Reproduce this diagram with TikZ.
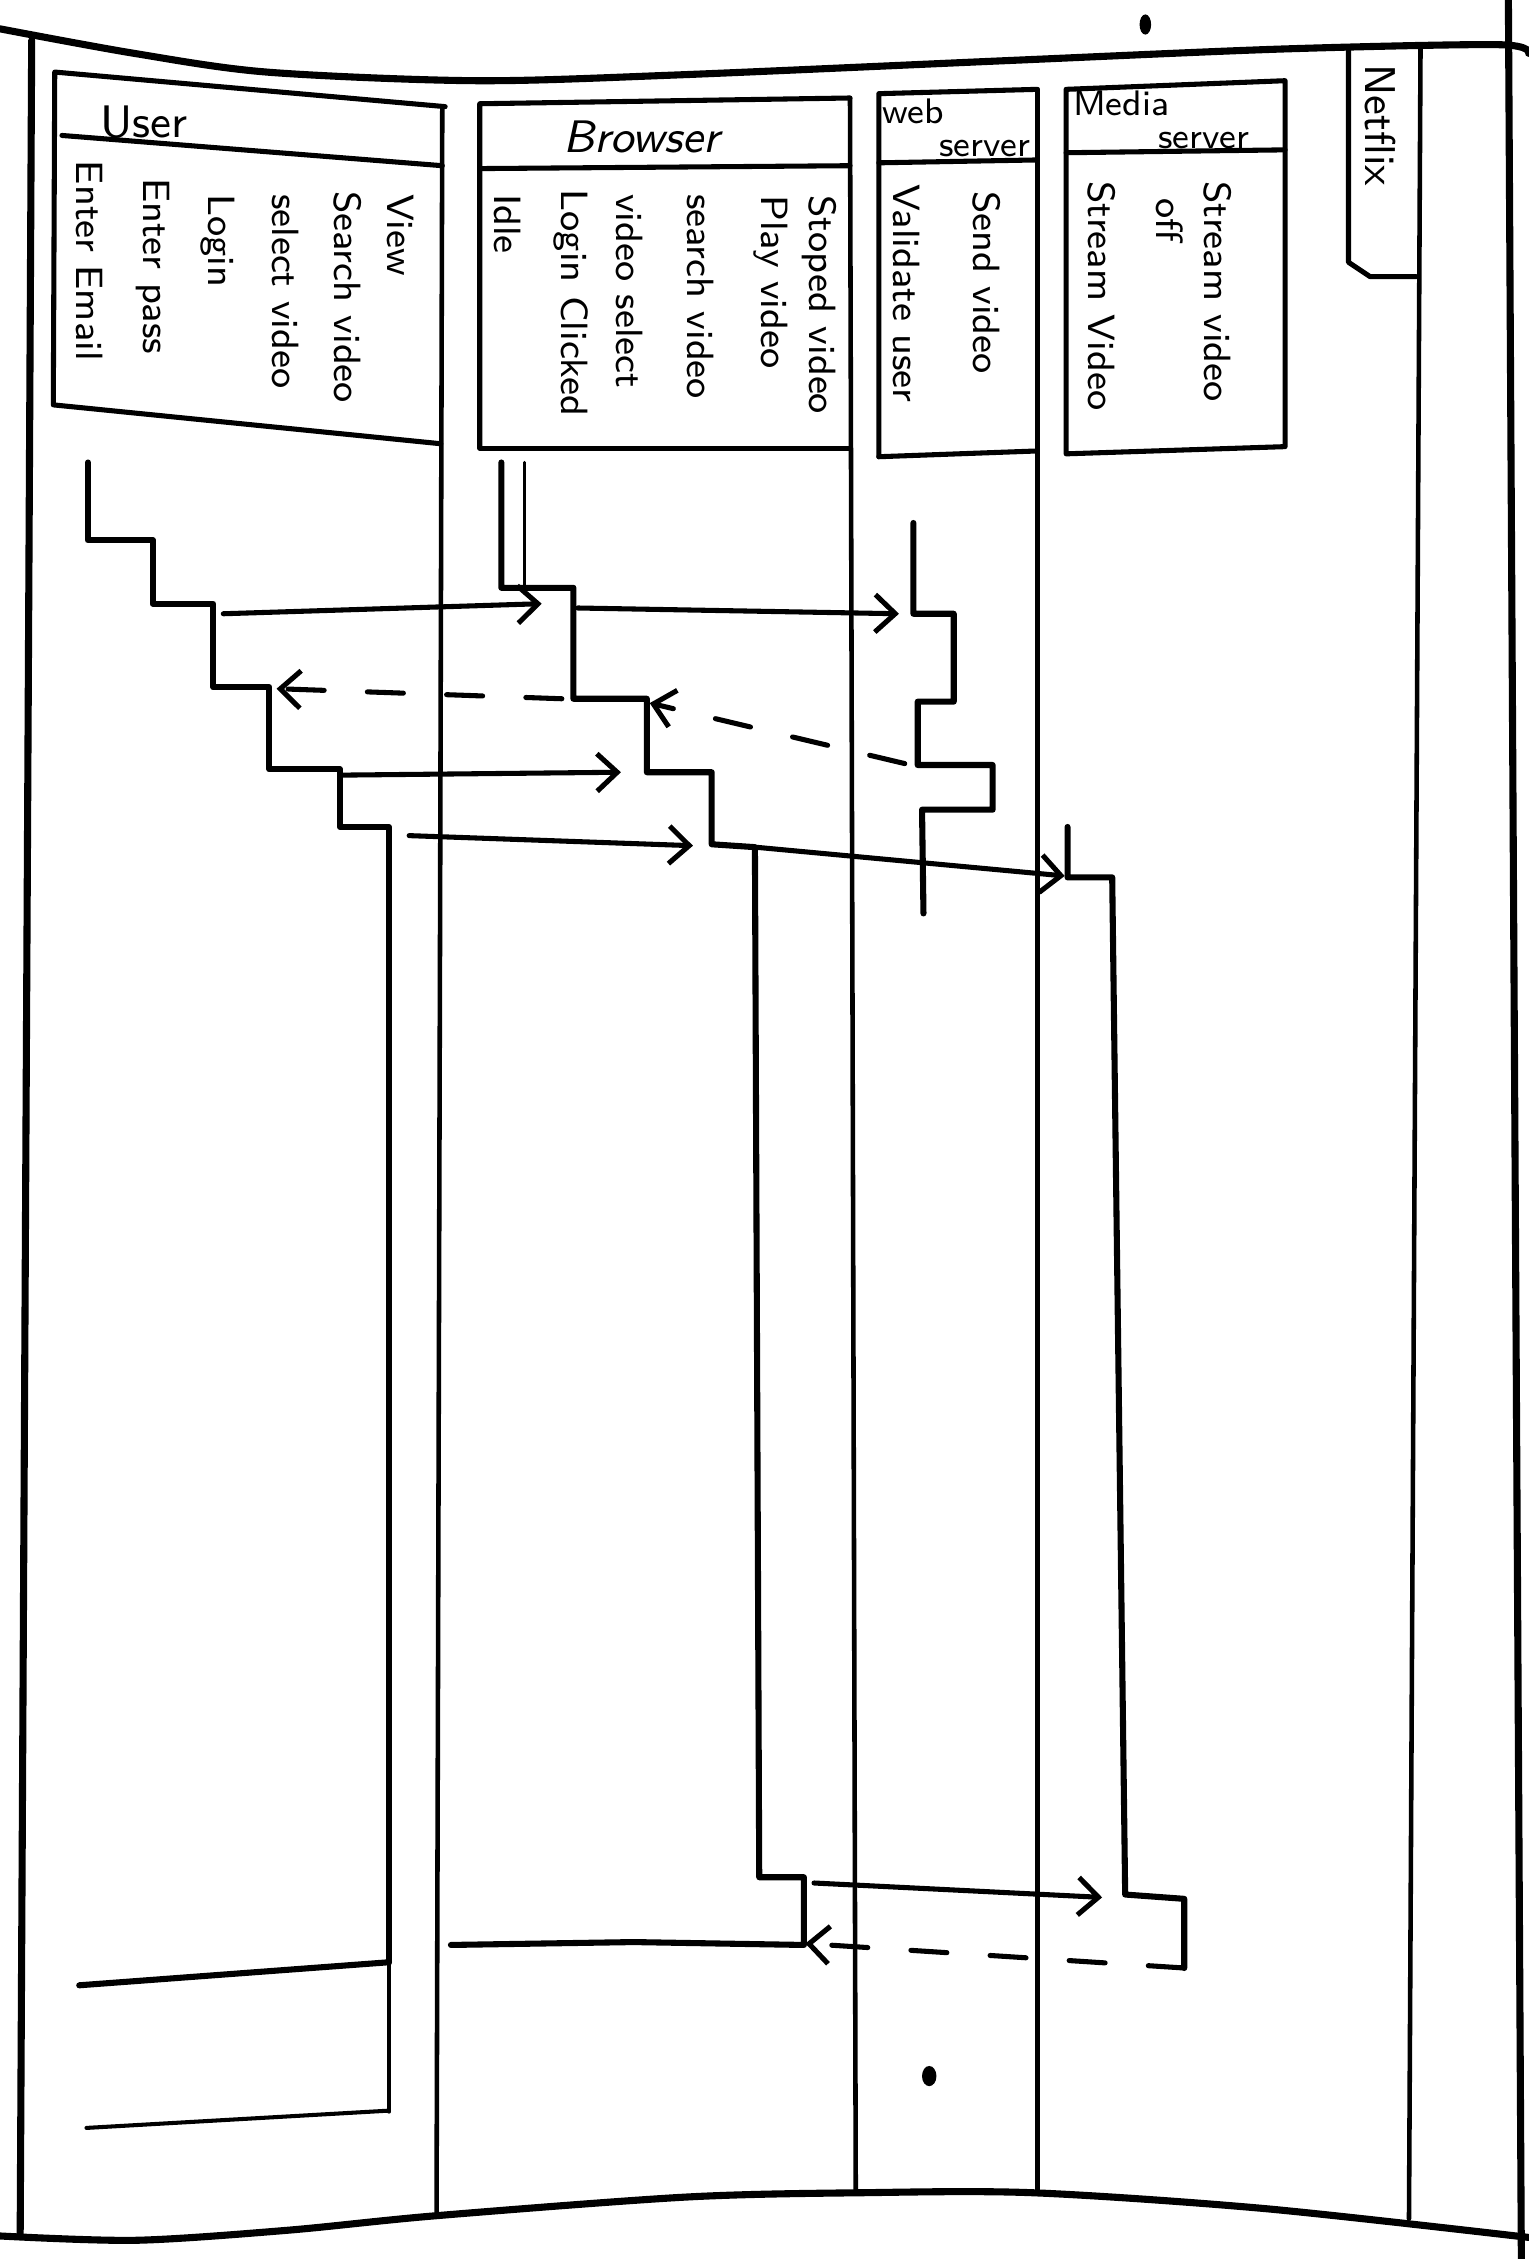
\documentclass[tikz,border=0pt]{standalone}
\usepackage{tikz}
\usetikzlibrary{arrows.meta,positioning}

\begin{document}
\begin{tikzpicture}[x=0.01cm, y=-0.01cm, line cap=round, line join=round,
    every node/.style={font=\sffamily\fontsize{7.5}{9}\selectfont}]
    \tikzstyle{frame} = [line width=1.4pt]
    \tikzstyle{lane} = [line width=0.9pt]
    \tikzstyle{box} = [line width=1pt]
    \tikzstyle{tline} = [line width=1.2pt]
    \tikzstyle{state} = [rotate=-90, anchor=west, inner sep=0pt]
    \tikzstyle{head} = [inner sep=0pt, font=\sffamily\fontsize{9}{10}\selectfont]
    \tikzstyle{small head} = [inner sep=0pt, align=left, font=\sffamily\fontsize{7}{6.5}\selectfont]
    \tikzstyle{msg} = [-{Straight Barb[length=1.4mm, width=2.6mm]}, line width=1pt]
    \tikzstyle{reply} = [msg, dash pattern=on 2.5mm off 3mm]

    \useasboundingbox (0,0) rectangle (1061,1568);

    % page frame
    \draw [frame] plot [smooth] coordinates {(0,20) (93,37) (185,50) (330,56) (470,52) (700,42) (890,34) (1040,31) (1061,37)};
    \draw [frame] plot [smooth] coordinates {(0,1552) (94,1555) (200,1548) (302,1538) (476,1525) (597,1522) (717,1522) (878,1533) (1061,1553)};
    \draw [frame] (22,28) -- (14,1552);
    \draw [frame] (1047,0) -- (1056,1568);

    % lanes
    \draw [lane] (307,74) -- (303,1538);
    \draw [lane] (590,68) -- (594,1522);
    \draw [lane] (720,62) -- (720,1522);
    \draw [lane] (986,34) -- (978,1540);

    % header boxes
    \draw [box] (309,74) -- (38,50) -- (37,281) -- (306,308);
    \draw [box] (43,94) -- (307,115);
    \draw [box] (333,311) -- (333,72) -- (590,68);
    \draw [box] (333,311) -- (590,311);
    \draw [box] (333,117) -- (590,115);
    \draw [box] (610,317) -- (610,65) -- (720,62);
    \draw [box] (610,317) -- (720,313);
    \draw [box] (610,113) -- (720,111);
    \draw [box] (740,62) -- (892,56) -- (892,310) -- (740,315) -- cycle;
    \draw [box] (740,106) -- (892,104);
    \draw [box] (936,35) -- (936,182) -- (951,192) -- (983,192);

    \node (user) [head] at (100,85) {User};
    \node (browser) [head] at (445,95) {\itshape Browser};
    \node (web) [small head] at (664,89) {web\\\hspace*{1.6em}server};
    \node (media) [small head] at (806,83) {Media\\\hspace*{2.4em}server};
    \node (netflix) [state, font=\sffamily\fontsize{8.5}{10}\selectfont] at (958,44) {Netflix};

    % states
    \node (uEmail) [state] at (62,111) {Enter Email};
    \node (uPass) [state] at (106,123) {Enter pass};
    \node (uLogin) [state] at (151,134) {Login};
    \node (uSelect) [state] at (198,134) {select video};
    \node (uSearch) [state] at (241,132) {Search video};
    \node (uView) [state] at (278,134) {View};

    \node (bIdle) [state] at (352,134) {Idle};
    \node (bLogin) [state] at (396,131) {Login Clicked};
    \node (bSelect) [state] at (437,134) {video select};
    \node (bSearch) [state] at (486,134) {search video};
    \node (bPlay) [state] at (535,135) {Play video};
    \node (bStop) [state] at (569,135) {Stoped video};

    \node (wValid) [state] at (629,127) {Validate user};
    \node (wSend) [state] at (685,132) {Send video};

    \node (mStream) [state] at (765,125) {Stream Video};
    \node (mOff) [state] at (812,137) {off};
    \node (mStreamoff) [state] at (845,125) {Stream video};

    % timelines
    \draw [tline] (61,321) -- (61,375) -- (106,375) -- (106,419) -- (148,419) -- (148,477)
        -- (187,477) -- (187,534) -- (236,534) -- (236,574) -- (270,574) -- (270,1362);
    \draw [line width=0.6pt] (270,1362) -- (270,1466);
    \draw [tline] (55,1378) -- (270,1362);
    \draw [line width=0.8pt] (60,1477) -- (270,1465);

    \draw [tline] (348,321) -- (348,408) -- (398,408) -- (398,485) -- (449,485) -- (449,536)
        -- (494,536) -- (494,586) -- (524,588) -- (527,1303) -- (558,1303) -- (558,1350)
        -- (440,1348) -- (313,1350);
    \draw [line width=0.6pt] (364,321) -- (364,408);

    \draw [tline] (634,363) -- (634,426) -- (662,426) -- (662,487) -- (637,487) -- (637,531)
        -- (689,531) -- (689,562) -- (640,562) -- (641,634);

    \draw [tline] (741,574) -- (741,609) -- (772,609) -- (781,1315) -- (822,1318) -- (822,1366);

    % messages
    \coordinate (m1a) at (155,426);  \coordinate (m1b) at (376,419);
    \coordinate (m2a) at (401,422);  \coordinate (m2b) at (624,426);
    \coordinate (r1a) at (390,485);  \coordinate (r1b) at (192,478);
    \coordinate (r2a) at (628,530);  \coordinate (r2b) at (451,488);
    \coordinate (m3a) at (238,538);  \coordinate (m3b) at (431,536);
    \coordinate (m4a) at (284,580);  \coordinate (m4b) at (481,587);
    \coordinate (m5a) at (524,588);  \coordinate (m5b) at (739,608);
    \coordinate (m6a) at (565,1307); \coordinate (m6b) at (765,1317);
    \coordinate (r3a) at (822,1366); \coordinate (r3b) at (559,1349);

    \draw [msg] (m1a) -- (m1b);
    \draw [msg] (m2a) -- (m2b);
    \draw [reply] (r1a) -- (r1b);
    \draw [reply] (r2a) -- (r2b);
    \draw [msg] (m3a) -- (m3b);
    \draw [msg] (m4a) -- (m4b);
    \draw [msg] (m5a) -- (m5b);
    \draw [msg] (m6a) -- (m6b);
    \draw [reply] (r3a) -- (r3b);

    % ink dots
    \fill (795,17) ellipse [x radius=0.4mm, y radius=0.7mm];
    \fill (645,1441) ellipse [x radius=0.5mm, y radius=0.7mm];
\end{tikzpicture}
\end{document}
